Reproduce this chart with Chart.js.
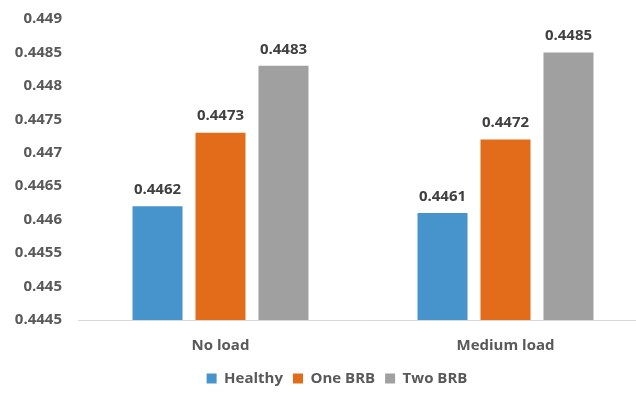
<!DOCTYPE html>
<html>
<head>
<meta charset="utf-8">
<script src="https://cdn.jsdelivr.net/npm/chart.js@4"></script>
<style>
  html, body { margin: 0; padding: 0; background: #fff; overflow: hidden; }
  #wrap { width: 650px; height: 396px; position: relative; }
</style>
</head>
<body>
<div id="wrap"><canvas id="brbChart"></canvas></div>
<script>
const categories = ["No load", "Medium load"];
const healthy = [0.4462, 0.4461];
const oneBRB = [0.4473, 0.4472];
const twoBRB = [0.4483, 0.4485];
const yTicks = [0.4445, 0.445, 0.4455, 0.446, 0.4465, 0.447, 0.4475, 0.448, 0.4485, 0.449];

const labelFont = { family: "'Open Sans', sans-serif", size: 15, weight: "bold" };

// print each bar's value just above it
const valueLabels = {
    id: "valueLabels",
    afterLayout(chart) {
        // nudge the legend a bit right
        chart.legend.left += 13;
        chart.legend.right += 13;
    },
    afterDatasetsDraw(chart) {
        const ctx = chart.ctx;
        ctx.save();
        ctx.font = "bold 15px 'Open Sans', sans-serif";
        ctx.fillStyle = "#404040";
        ctx.textAlign = "center";
        ctx.textBaseline = "bottom";
        chart.data.datasets.forEach((ds, i) => {
            chart.getDatasetMeta(i).data.forEach((bar, j) => {
                ctx.fillText(ds.data[j].toFixed(4), bar.x, bar.y - 9);
            });
        });
        ctx.restore();
    }
};

new Chart(document.getElementById("brbChart"), {
    type: "bar",
    data: {
        labels: categories,
        datasets: [
            { label: "Healthy", data: healthy, backgroundColor: "#4793cb" },
            { label: "One BRB", data: oneBRB, backgroundColor: "#e36c1b" },
            { label: "Two BRB", data: twoBRB, backgroundColor: "#a0a0a0" }
        ]
    },
    options: {
        responsive: true,
        maintainAspectRatio: false,
        animation: false,
        categoryPercentage: 0.663,
        barPercentage: 0.794,
        layout: { padding: { top: 19, left: 0, right: 2, bottom: 0 } },
        scales: {
            x: {
                afterFit(scale) { scale.height = 41; },
                grid: { display: false },
                border: { display: true, color: "#d9d9d9", width: 1 },
                ticks: { color: "#595959", font: labelFont, padding: 9 }
            },
            y: {
                min: 0.4445,
                max: 0.449,
                afterFit(scale) {
                    scale.width = 78;
                    scale.paddingTop = 0;
                    scale.paddingBottom = 0;
                },
                afterBuildTicks(scale) { scale.ticks = yTicks.map(v => ({ value: v })); },
                grid: { display: false, drawTicks: false },
                border: { display: false },
                ticks: {
                    color: "#595959",
                    font: labelFont,
                    padding: 16,
                    callback: v => parseFloat(v.toFixed(4)).toString()
                }
            }
        },
        plugins: {
            legend: {
                position: "bottom",
                labels: {
                    color: "#595959",
                    font: labelFont,
                    boxWidth: 10,
                    boxHeight: 10,
                    padding: 10
                }
            },
            tooltip: { enabled: false }
        }
    },
    plugins: [valueLabels]
});
</script>
</body>
</html>
